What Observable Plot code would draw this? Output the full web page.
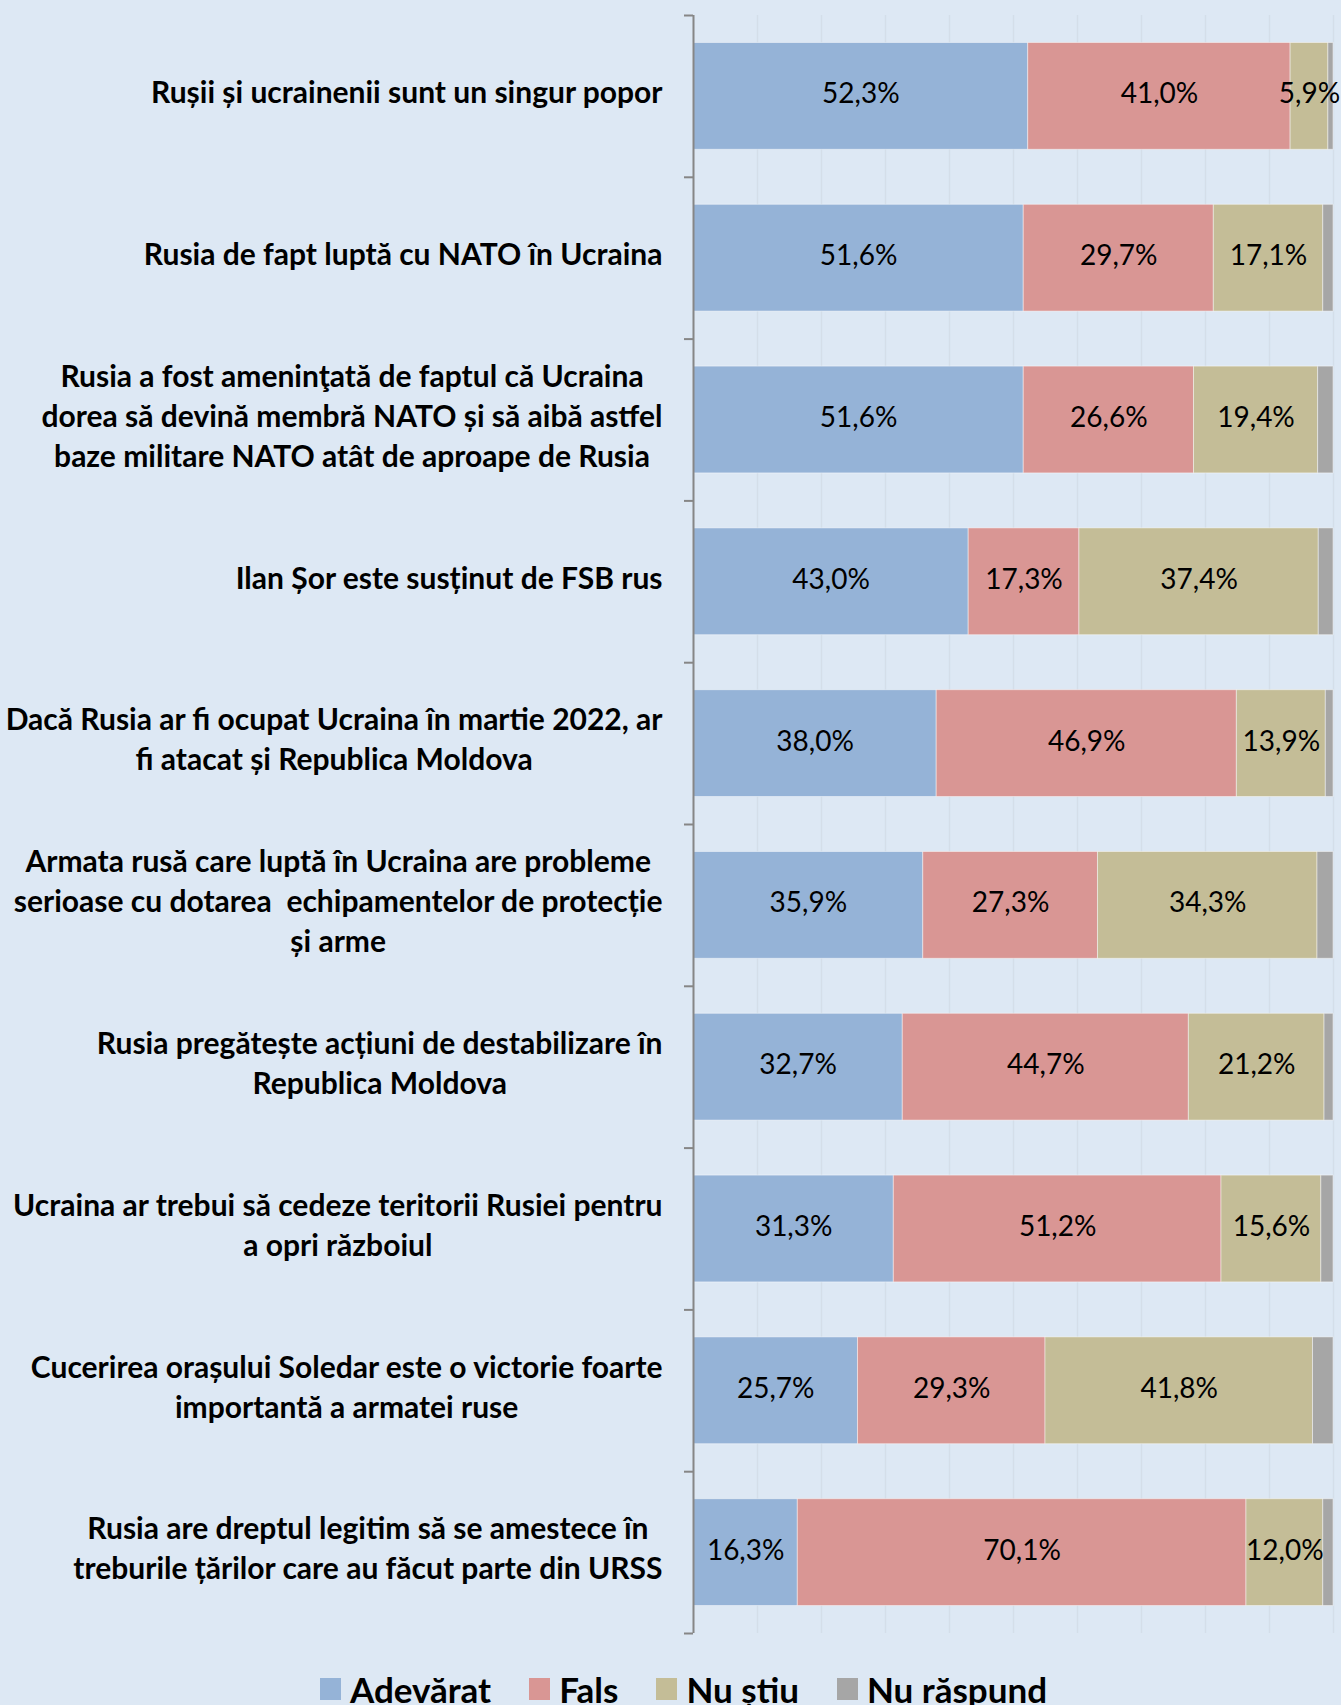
<!DOCTYPE html>
<html>
<head>
<meta charset="utf-8">
<script src="https://cdn.jsdelivr.net/npm/d3@7"></script>
<script src="https://cdn.jsdelivr.net/npm/@observablehq/plot@0.6"></script>
<style>
html, body { margin: 0; padding: 0; background: #dde8f4; }
body { width: 1341px; height: 1705px; overflow: hidden; font-family: Lato, sans-serif; }
#chart svg { display: block; }
#legend { margin-top: 18px; padding-left: 26px; }
div.lg-swatches { display: flex; justify-content: center; font-family: Lato, sans-serif; font-size: 35px; font-weight: bold; color: #000; margin: 0; min-height: 0; }
div.lg-swatches .lg-swatch { margin-right: 38px; }
div.lg-swatches .lg-swatch:last-child { margin-right: 0; }
div.lg-swatches .lg-swatch > svg { margin-right: 9px; }
</style>
</head>
<body>
<div id="chart"></div>
<div id="legend"></div>
<script>
const categories = [
  "Rușii și ucrainenii sunt un singur popor",
  "Rusia de fapt luptă cu NATO în Ucraina",
  "Rusia a fost ameninţată de faptul că Ucraina\ndorea să devină membră NATO și să aibă astfel\nbaze militare NATO atât de aproape de Rusia",
  "Ilan Șor este susținut de FSB rus",
  "Dacă Rusia ar fi ocupat Ucraina în martie 2022, ar\nfi atacat și Republica Moldova",
  "Armata rusă care luptă în Ucraina are probleme\nserioase cu dotarea  echipamentelor de protecție\nși arme",
  "Rusia pregătește acțiuni de destabilizare în\nRepublica Moldova",
  "Ucraina ar trebui să cedeze teritorii Rusiei pentru\na opri războiul",
  "Cucerirea orașului Soledar este o victorie foarte\nimportantă a armatei ruse",
  "Rusia are dreptul legitim să se amestece în\ntreburile țărilor care au făcut parte din URSS"
];
const answers = ["Adevărat", "Fals", "Nu știu", "Nu răspund"];
const colors = ["#95b3d7", "#d99694", "#c4bd97", "#a6a6a6"];
const adevarat  = [52.3, 51.6, 51.6, 43.0, 38.0, 35.9, 32.7, 31.3, 25.7, 16.3];
const fals      = [41.0, 29.7, 26.6, 17.3, 46.9, 27.3, 44.7, 51.2, 29.3, 70.1];
const nuStiu    = [5.9, 17.1, 19.4, 37.4, 13.9, 34.3, 21.2, 15.6, 41.8, 12.0];
const nuRaspund = [0.8, 1.6, 2.4, 2.3, 1.2, 2.5, 1.4, 1.9, 3.2, 1.6];
const xTicks = [0, 10, 20, 30, 40, 50, 60, 70, 80, 90, 100];

const series = [adevarat, fals, nuStiu, nuRaspund];
const data = [];
categories.forEach((q, i) => {
  answers.forEach((a, j) => data.push({q, answer: a, value: series[j][i]}));
});
const fmt = v => v.toFixed(1).replace(".", ",") + "%";

const W = 1341, H = 1650, MT = 15, MB = 17, ML = 693, MR = 8;
const step = (H - MT - MB) / categories.length;
const axisColor = "#868686";

const plot = Plot.plot({
  width: W, height: H,
  marginTop: MT, marginBottom: MB, marginLeft: ML, marginRight: MR,
  style: {background: "transparent", fontFamily: "Lato, sans-serif", color: "#000", overflow: "visible"},
  x: {domain: [0, 100], axis: null},
  y: {domain: categories, paddingInner: 0.34, paddingOuter: 0.17, round: false, label: null},
  color: {domain: answers, range: colors},
  marks: [
    Plot.gridX(xTicks, {stroke: "#d4dee9", strokeOpacity: 1, strokeWidth: 1.5}),
    Plot.barX(data, Plot.stackX({x: "value", y: "q", z: "answer", fill: "answer",
      stroke: "#ffffff", strokeOpacity: 0.45, strokeWidth: 1})),
    Plot.text(data, Plot.stackX({x: "value", y: "q", z: "answer",
      filter: d => d.answer !== "Nu răspund",
      text: d => fmt(d.value), fontSize: 28, fill: "#000", dy: -2})),
    Plot.axisY({tickSize: 0, tickPadding: 31, fontSize: 30, fontWeight: "bold", lineHeight: 1.33, dy: -6, label: null}),
    Plot.ruleX([0], {stroke: axisColor, strokeWidth: 2}),
    Plot.ruleY(categories, {y: d => d, x1: () => 0, x2: () => 0, insetLeft: -9, dy: -step / 2, stroke: axisColor, strokeWidth: 2}),
    Plot.ruleY(categories.slice(-1), {y: d => d, x1: () => 0, x2: () => 0, insetLeft: -9, dy: step / 2, stroke: axisColor, strokeWidth: 2})
  ]
});
document.getElementById("chart").appendChild(plot);

// centre multi-line labels within their block, keeping the block right-aligned
plot.querySelectorAll('[aria-label="y-axis tick label"] text').forEach(t => {
  const b0 = t.getBBox();
  const r0 = b0.x + b0.width;
  t.setAttribute("text-anchor", "middle");
  t.querySelectorAll("tspan").forEach(s => s.setAttribute("text-anchor", "middle"));
  const b1 = t.getBBox();
  const r1 = b1.x + b1.width;
  const tr = t.getAttribute("transform") || "";
  t.setAttribute("transform", tr + ` translate(${r0 - r1},0)`);
});

const leg = plot.legend("color", {className: "lg", swatchWidth: 21, swatchHeight: 22});
document.getElementById("legend").appendChild(leg);
</script>
</body>
</html>
